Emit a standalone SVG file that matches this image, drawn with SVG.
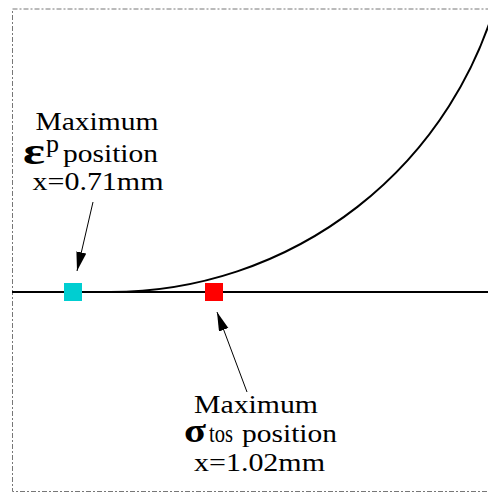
<svg xmlns="http://www.w3.org/2000/svg" width="488" height="493" viewBox="0 0 488 493">
  <style>
    .lbl { font-family: "Liberation Serif", "Times New Roman", serif; font-size: 26px; fill: #000; }
    .greek { font-family: "Liberation Serif", "Times New Roman", serif; font-weight: bold; fill: #000; }
    .conn { stroke: #000; stroke-width: 1; fill: none; }
    .axis { stroke: #000; stroke-width: 2; fill: none; }
  </style>
  <defs>
    <marker id="arrow" markerUnits="userSpaceOnUse" markerWidth="20" markerHeight="12" refX="19" refY="5" orient="auto">
      <path d="M0,0 L19,5 L0,10 Z" fill="#000"/>
    </marker>
  </defs>
  <rect width="488" height="493" fill="#fff"/>
  <rect x="12.5" y="9" width="480" height="482.5" fill="none" stroke="#777" stroke-width="1" stroke-dasharray="5,2,2,2"/>

  <g id="axis">
    <line class="axis" x1="12" y1="292" x2="488" y2="292"/>
  </g>
  <g id="curve">
    <path class="axis" d="M110,292 A402,402 0 0 0 500,-12.5"/>
  </g>

  <g id="connectors">
    <line class="conn" x1="93" y1="202" x2="77" y2="271" marker-end="url(#arrow)"/>
    <line class="conn" x1="247" y1="392" x2="217" y2="312" marker-end="url(#arrow)"/>
  </g>

  <g id="marker-ep">
    <rect x="64" y="283" width="18" height="18" fill="#00CED1"/>
  </g>
  <g id="marker-sigma">
    <rect x="205" y="283" width="18" height="18" fill="#FF0000"/>
  </g>

  <g id="label-ep">
    <text class="lbl" x="97" y="130" text-anchor="middle" textLength="123" lengthAdjust="spacingAndGlyphs">Maximum</text>
    <text class="greek" x="23" y="164" font-size="38" textLength="22" lengthAdjust="spacingAndGlyphs">ε</text>
    <text class="lbl" x="46" y="152" font-size="16">p</text>
    <text class="lbl" x="63" y="162" textLength="95" lengthAdjust="spacingAndGlyphs">position</text>
    <text class="lbl" x="98" y="190" text-anchor="middle" textLength="131" lengthAdjust="spacingAndGlyphs">x=0.71mm</text>
  </g>

  <g id="label-sigma">
    <text class="lbl" x="256" y="412.5" text-anchor="middle" textLength="124" lengthAdjust="spacingAndGlyphs">Maximum</text>
    <text class="greek" x="184" y="442" font-size="34" textLength="22" lengthAdjust="spacingAndGlyphs">σ</text>
    <text class="lbl" x="209" y="442" font-size="18" textLength="24" lengthAdjust="spacingAndGlyphs">tos</text>
    <text class="lbl" x="242" y="442" textLength="95" lengthAdjust="spacingAndGlyphs">position</text>
    <text class="lbl" x="259.5" y="471" text-anchor="middle" textLength="131" lengthAdjust="spacingAndGlyphs">x=1.02mm</text>
  </g>
</svg>
